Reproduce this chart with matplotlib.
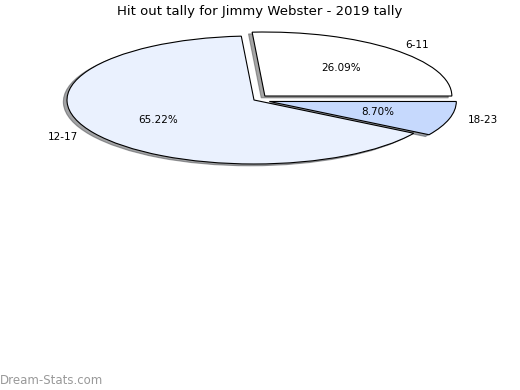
import matplotlib
matplotlib.use("Agg")
import matplotlib.pyplot as plt

labels = ["6-11", "18-23", "12-17"]
tally = [6, 2, 15]
explode = [0.085, 0.085, 0.0]
colors = ["#ffffff", "#c6d9fd", "#eaf1fe"]

fig = plt.figure(figsize=[5.2, 3.9], dpi=100)

# place axes so the pie is a flat ellipse centred at (254, 100) px from top-left
rx, ry = 187, 64
cx, cy = 254, 390 - 100
ax = fig.add_axes([(cx - 1.35 * rx) / 520, (cy - 1.5 * ry) / 390,
                   2.7 * rx / 520, 3.0 * ry / 390])
ax.pie(
    tally,
    labels=labels,
    explode=explode,
    colors=colors,
    autopct="%.2f%%",
    startangle=93.9,
    counterclock=False,
    shadow={"ox": -0.014, "oy": -0.02},
    wedgeprops={"edgecolor": "black", "linewidth": 0.8},
    textprops={"fontsize": 7.5},
)
ax.set_aspect("auto")
ax.set_xlim(-1.35, 1.35)
ax.set_ylim(-1.5, 1.5)
ax.axis("off")

fig.text(0.5, 1 - 11 / 390, "Hit out tally for Jimmy Webster - 2019 tally",
         ha="center", va="center", fontsize=9.5)
fig.text(0.0, 1 - 380 / 390, "Dream-Stats.com", ha="left", va="center",
         fontsize=8.5, color="#999999")

fig.savefig("out.png", dpi=100)
